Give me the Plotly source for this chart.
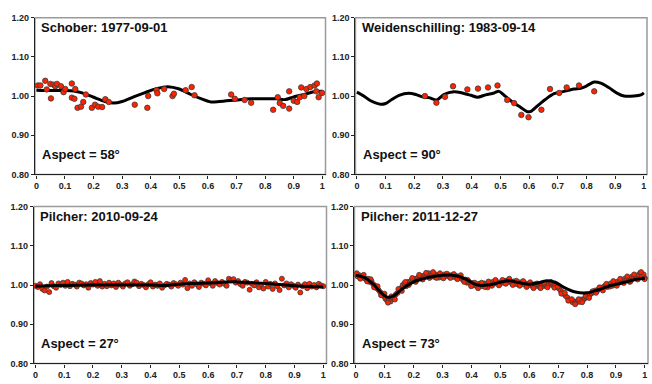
import plotly.graph_objects as go

# ---------------- data ----------------
titles = ["Schober: 1977-09-01", "Weidenschilling: 1983-09-14",
          "Pilcher: 2010-09-24", "Pilcher: 2011-12-27"]
aspects = ["Aspect = 58°", "Aspect = 90°", "Aspect = 27°", "Aspect = 73°"]

x_ticks = [0, 0.1, 0.2, 0.3, 0.4, 0.5, 0.6, 0.7, 0.8, 0.9, 1.0]
x_tick_text = ["0", "0.1", "0.2", "0.3", "0.4", "0.5", "0.6", "0.7", "0.8", "0.9", "1"]
y_ticks = [0.80, 0.90, 1.00, 1.10, 1.20]
y_tick_text = ["0.80", "0.90", "1.00", "1.10", "1.20"]

# Panel 1: Schober 1977
m1_phase = [0.0, 0.05, 0.10, 0.13, 0.16, 0.20, 0.24, 0.27, 0.30, 0.34, 0.38, 0.42, 0.46,
            0.50, 0.54, 0.58, 0.61, 0.64, 0.70, 0.75, 0.80, 0.84, 0.87, 0.90, 0.94, 0.97, 1.0]
m1_mag = [1.015, 1.014, 1.014, 1.013, 1.008, 0.997, 0.986, 0.982, 0.986, 0.998, 1.009, 1.019, 1.024,
          1.018, 1.004, 0.992, 0.985, 0.986, 0.990, 0.993, 0.993, 0.993, 0.991, 0.998, 1.005, 1.011, 1.012]
d1_phase = [0.005, 0.014, 0.031, 0.036, 0.049, 0.051, 0.060, 0.066, 0.072, 0.086, 0.095, 0.101,
            0.124, 0.124, 0.133, 0.136, 0.144, 0.156, 0.164, 0.173, 0.194, 0.205, 0.216, 0.230,
            0.241, 0.253, 0.344, 0.388, 0.391, 0.420, 0.423, 0.447, 0.476, 0.481, 0.522, 0.543,
            0.553, 0.681, 0.694, 0.728, 0.751, 0.828, 0.844, 0.851, 0.863, 0.884, 0.884, 0.900,
            0.912, 0.921, 0.926, 0.937, 0.944, 0.958, 0.973, 0.981, 0.979, 0.987, 0.999]
d1_mag = [1.027, 1.027, 1.039, 1.017, 1.031, 0.994, 1.029, 1.025, 1.031, 1.025, 1.010, 1.018,
          1.032, 0.996, 0.993, 1.018, 0.970, 0.973, 0.985, 1.004, 0.970, 0.978, 0.973, 0.972,
          0.992, 0.985, 0.978, 0.970, 1.000, 1.015, 1.007, 1.018, 1.000, 1.006, 1.015, 1.023,
          1.002, 1.004, 0.993, 0.990, 0.983, 0.965, 0.997, 0.982, 0.975, 1.012, 0.968, 0.988,
          0.985, 0.997, 1.022, 1.000, 1.018, 1.023, 1.027, 1.032, 1.012, 0.997, 1.008]

# Panel 2: Weidenschilling 1983
m2_phase = [0.0, 0.024, 0.048, 0.083, 0.10, 0.123, 0.147, 0.181, 0.205, 0.228, 0.251, 0.278,
            0.303, 0.338, 0.367, 0.397, 0.42, 0.449, 0.478, 0.495, 0.513, 0.542, 0.571, 0.594,
            0.606, 0.629, 0.658, 0.687, 0.71, 0.734, 0.757, 0.78, 0.798, 0.827, 0.85, 0.879,
            0.908, 0.931, 0.966, 0.99, 1.0]
m2_mag = [1.010, 1.000, 0.988, 0.979, 0.981, 0.992, 1.002, 1.007, 1.004, 0.998, 0.996, 0.990,
          1.004, 1.011, 1.008, 1.002, 0.997, 1.003, 1.008, 1.012, 1.002, 0.985, 0.971, 0.960,
          0.961, 0.975, 0.992, 1.006, 1.010, 1.014, 1.018, 1.020, 1.025, 1.036, 1.033, 1.021,
          1.007, 1.000, 1.000, 1.003, 1.008]
d2_phase = [0.237, 0.277, 0.307, 0.335, 0.385, 0.422, 0.457, 0.490, 0.524, 0.548, 0.573, 0.598,
            0.643, 0.673, 0.705, 0.731, 0.774, 0.827]
d2_mag = [1.000, 0.983, 0.998, 1.025, 1.017, 1.019, 1.022, 1.027, 0.990, 0.982, 0.952, 0.946,
          0.965, 1.018, 1.008, 1.022, 1.027, 1.012]

# Panel 3: Pilcher 2010
m3_phase = [0.0, 0.05, 0.10, 0.20, 0.30, 0.40, 0.45, 0.50, 0.55, 0.60, 0.65, 0.70, 0.75, 0.80,
            0.85, 0.90, 0.95, 1.0]
m3_mag = [0.997, 0.998, 0.999, 1.000, 1.000, 1.000, 0.999, 1.002, 1.004, 1.005, 1.007, 1.008,
          1.006, 1.004, 1.001, 0.998, 0.996, 0.995]
d3_phase = [0.000, 0.008, 0.016, 0.024, 0.032, 0.040, 0.048, 0.056, 0.064, 0.072, 0.080, 0.088,
            0.096, 0.104, 0.112, 0.120, 0.128, 0.136, 0.144, 0.152, 0.160, 0.168, 0.176, 0.184,
            0.192, 0.200, 0.208, 0.216, 0.224, 0.232, 0.240, 0.248, 0.256, 0.264, 0.272, 0.280,
            0.288, 0.296, 0.304, 0.312, 0.320, 0.328, 0.336, 0.344, 0.352, 0.360, 0.368, 0.376,
            0.384, 0.392, 0.400, 0.408, 0.416, 0.424, 0.432, 0.440, 0.448, 0.456, 0.464, 0.472,
            0.480, 0.488, 0.496, 0.504, 0.512, 0.520, 0.528, 0.536, 0.544, 0.552, 0.560, 0.568,
            0.576, 0.584, 0.592, 0.600, 0.608, 0.616, 0.624, 0.632, 0.640, 0.648, 0.656, 0.664,
            0.672, 0.680, 0.688, 0.696, 0.704, 0.712, 0.720, 0.728, 0.736, 0.744, 0.752, 0.760,
            0.768, 0.776, 0.784, 0.792, 0.800, 0.808, 0.816, 0.824, 0.832, 0.840, 0.848, 0.856,
            0.864, 0.872, 0.880, 0.888, 0.896, 0.904, 0.912, 0.920, 0.928, 0.936, 0.944, 0.952,
            0.960, 0.968, 0.976, 0.984, 0.992, 1.000]
d3_mag = [0.998, 0.995, 1.002, 0.990, 0.986, 0.996, 0.982, 1.005, 0.997, 0.993, 1.004, 1.000,
          1.006, 0.998, 1.008, 0.997, 1.003, 1.001, 0.996, 1.006, 1.004, 0.999, 1.002, 0.993,
          1.005, 1.001, 1.008, 0.998, 1.010, 0.996, 1.003, 0.997, 1.006, 0.999, 1.004, 0.995,
          1.006, 1.001, 0.996, 1.004, 1.007, 0.998, 1.002, 1.009, 1.006, 0.997, 1.003, 1.000,
          0.994, 1.002, 1.007, 0.996, 1.001, 0.998, 1.004, 0.993, 0.999, 1.003, 1.001, 0.996,
          1.005, 1.002, 0.998, 1.006, 1.001, 1.013, 0.992, 1.004, 0.998, 1.007, 1.002, 0.995,
          1.006, 1.003, 0.999, 1.012, 1.004, 0.998, 1.010, 1.005, 1.001, 1.008, 1.003, 0.998,
          1.016, 1.012, 1.015, 1.006, 1.010, 1.002, 0.998, 1.008, 1.006, 0.988, 1.003, 0.999,
          1.007, 0.994, 1.001, 0.991, 1.008, 0.996, 1.003, 0.990, 1.004, 0.997, 0.987, 1.016,
          0.999, 1.004, 0.994, 1.002, 0.998, 0.993, 1.001, 0.981, 0.997, 1.002, 0.992, 1.003,
          0.996, 1.000, 0.994, 1.003, 0.999, 0.997]

# Panel 4: Pilcher 2011
m4_phase = [0.0, 0.03, 0.06, 0.09, 0.11, 0.13, 0.16, 0.20, 0.25, 0.30, 0.35, 0.38, 0.42, 0.46,
            0.50, 0.53, 0.57, 0.60, 0.63, 0.66, 0.69, 0.72, 0.76, 0.80, 0.84, 0.88, 0.92, 0.96, 1.0]
m4_mag = [1.025, 1.019, 1.002, 0.978, 0.969, 0.972, 0.990, 1.008, 1.019, 1.025, 1.023, 1.015,
          1.000, 1.000, 1.007, 1.011, 1.005, 1.002, 1.005, 1.011, 1.007, 0.994, 0.982, 0.980,
          0.988, 0.998, 1.005, 1.013, 1.017]
d4_phase = [0.000, 0.006, 0.012, 0.018, 0.024, 0.030, 0.036, 0.042, 0.048, 0.054, 0.060, 0.066,
            0.072, 0.078, 0.084, 0.090, 0.096, 0.102, 0.108, 0.114, 0.120, 0.126, 0.132, 0.138,
            0.144, 0.150, 0.156, 0.162, 0.168, 0.174, 0.180, 0.186, 0.192, 0.198, 0.204, 0.210,
            0.216, 0.222, 0.228, 0.234, 0.240, 0.246, 0.252, 0.258, 0.264, 0.270, 0.276, 0.282,
            0.288, 0.294, 0.300, 0.306, 0.312, 0.318, 0.324, 0.330, 0.336, 0.342, 0.348, 0.354,
            0.360, 0.366, 0.372, 0.378, 0.384, 0.390, 0.396, 0.402, 0.408, 0.414, 0.420, 0.426,
            0.432, 0.438, 0.444, 0.450, 0.456, 0.462, 0.468, 0.474, 0.480, 0.486, 0.492, 0.498,
            0.504, 0.510, 0.516, 0.522, 0.528, 0.534, 0.540, 0.546, 0.552, 0.558, 0.564, 0.570,
            0.576, 0.582, 0.588, 0.594, 0.600, 0.606, 0.612, 0.618, 0.624, 0.630, 0.636, 0.642,
            0.648, 0.654, 0.660, 0.666, 0.672, 0.678, 0.684, 0.690, 0.696, 0.702, 0.708, 0.714,
            0.720, 0.726, 0.732, 0.738, 0.744, 0.750, 0.756, 0.762, 0.768, 0.774, 0.780, 0.786,
            0.792, 0.798, 0.804, 0.810, 0.816, 0.822, 0.828, 0.834, 0.840, 0.846, 0.852, 0.858,
            0.864, 0.870, 0.876, 0.882, 0.888, 0.894, 0.900, 0.906, 0.912, 0.918, 0.924, 0.930,
            0.936, 0.942, 0.948, 0.954, 0.960, 0.966, 0.972, 0.978, 0.984, 0.990, 0.996, 1.000]
d4_mag = [1.027, 1.022, 1.025, 1.019, 1.023, 1.017, 1.014, 1.016, 1.008, 1.010, 1.002, 0.998,
          0.992, 0.988, 0.982, 0.978, 0.972, 0.965, 0.960, 0.962, 0.958, 0.966, 0.970, 0.976,
          0.980, 0.987, 0.992, 1.000, 1.004, 0.997, 1.008, 1.006, 1.012, 1.010, 1.016, 1.013,
          1.020, 1.017, 1.023, 1.019, 1.026, 1.022, 1.030, 1.024, 1.028, 1.021, 1.027, 1.024,
          1.019, 1.025, 1.022, 1.027, 1.023, 1.026, 1.021, 1.025, 1.024, 1.020, 1.023, 1.018,
          1.021, 1.016, 1.012, 1.014, 1.006, 1.009, 1.003, 1.005, 0.999, 1.002, 0.996, 1.003,
          1.000, 0.997, 1.004, 1.001, 0.994, 1.006, 1.002, 1.008, 1.004, 1.009, 1.005, 1.002,
          1.008, 1.006, 1.011, 1.007, 1.013, 1.008, 1.004, 1.009, 1.006, 1.002, 1.007, 1.003,
          1.008, 1.001, 1.004, 0.999, 1.003, 1.000, 0.996, 1.002, 0.998, 1.001, 0.995, 1.000,
          0.997, 1.002, 0.999, 1.004, 1.001, 1.005, 0.998, 1.001, 0.994, 0.992, 0.986, 0.982,
          0.977, 0.972, 0.968, 0.963, 0.960, 0.956, 0.958, 0.955, 0.960, 0.957, 0.963, 0.961,
          0.966, 0.969, 0.972, 0.975, 0.979, 0.982, 0.986, 0.984, 0.989, 0.993, 0.991, 0.996,
          0.999, 0.995, 1.001, 1.004, 0.998, 1.006, 1.003, 1.009, 1.006, 1.012, 1.010, 1.016,
          1.012, 1.019, 1.008, 1.021, 1.017, 1.024, 1.020, 1.026, 1.031, 1.022, 1.027, 1.018]
d4b_phase = [0.003, 0.015, 0.027, 0.039, 0.051, 0.063, 0.075, 0.087, 0.099, 0.111, 0.123, 0.135,
             0.147, 0.159, 0.171, 0.183, 0.195, 0.207, 0.219, 0.231, 0.243, 0.255, 0.267, 0.279,
             0.291, 0.303, 0.315, 0.327, 0.339, 0.351, 0.363, 0.375, 0.387, 0.399, 0.411, 0.423,
             0.435, 0.447, 0.459, 0.471, 0.483, 0.495, 0.507, 0.519, 0.531, 0.543, 0.555, 0.567,
             0.579, 0.591, 0.603, 0.615, 0.627, 0.639, 0.651, 0.663, 0.675, 0.687, 0.699, 0.711,
             0.723, 0.735, 0.747, 0.759, 0.771, 0.783, 0.795, 0.807, 0.819, 0.831, 0.843, 0.855,
             0.867, 0.879, 0.891, 0.903, 0.915, 0.927, 0.939, 0.951, 0.963, 0.975, 0.987, 0.999]
d4b_mag = [1.030, 1.016, 1.026, 1.009, 1.015, 0.994, 0.997, 0.974, 0.978, 0.955, 0.971, 0.963,
           0.990, 0.985, 1.008, 1.000, 1.018, 1.008, 1.026, 1.014, 1.031, 1.018, 1.033, 1.018,
           1.030, 1.017, 1.029, 1.018, 1.028, 1.015, 1.025, 1.008, 1.013, 0.997, 1.006, 0.992,
           1.006, 0.995, 1.009, 0.998, 1.013, 0.999, 1.013, 1.003, 1.016, 1.000, 1.011, 0.998,
           1.010, 0.995, 1.007, 0.992, 1.004, 0.992, 1.006, 0.994, 1.008, 0.993, 0.996, 0.978,
           0.980, 0.960, 0.964, 0.951, 0.964, 0.956, 0.972, 0.967, 0.984, 0.980, 0.994, 0.986,
           1.003, 0.996, 1.010, 0.998, 1.016, 1.005, 1.022, 1.010, 1.027, 1.014, 1.033, 1.015]

panels = [
    (m1_phase, m1_mag, [d1_phase], [d1_mag], False),
    (m2_phase, m2_mag, [d2_phase], [d2_mag], False),
    (m3_phase, m3_mag, [d3_phase], [d3_mag], True),
    (m4_phase, m4_mag, [d4_phase, d4b_phase], [d4_mag, d4b_mag], True),
]

# ---------------- layout geometry (pixels) ----------------
W, H = 652, 384
boxes = [(34, 325, 13, 174), (355, 647, 13, 174), (33, 326, 207, 368), (354, 648, 207, 368)]

fig = go.Figure()
font = "Arial, Liberation Sans, sans-serif"
red = "#ff2200"
edge = "#3a3a3a"

for i, (mp, mm, dps, dms, line_on_top) in enumerate(panels):
    n = i + 1
    xa = "x" if n == 1 else f"x{n}"
    ya = "y" if n == 1 else f"y{n}"
    line_tr = go.Scatter(x=mp, y=mm, mode="lines", xaxis=xa, yaxis=ya,
                         line=dict(color="black", width=3, shape="spline", smoothing=0.8),
                         hoverinfo="skip")
    pts = []
    for dp, dm in zip(dps, dms):
        pts.append(go.Scatter(x=dp, y=dm, mode="markers", xaxis=xa, yaxis=ya,
                              marker=dict(color=red, size=5.5 if not line_on_top else 5,
                                          line=dict(color=edge, width=0.8)),
                              hoverinfo="skip"))
    if line_on_top:
        for p in pts:
            fig.add_trace(p)
        fig.add_trace(line_tr)
    else:
        fig.add_trace(line_tr)
        for p in pts:
            fig.add_trace(p)

    x0, x1, y0, y1 = boxes[i]
    xdom = [x0 / W, x1 / W]
    ydom = [1 - y1 / H, 1 - y0 / H]
    ax_common = dict(showgrid=False, zeroline=False, showline=True, linecolor="#222222",
                     linewidth=1.2, ticks="outside", ticklen=3, tickwidth=1, tickcolor="#222222",
                     tickfont=dict(family=font, size=9, color="#222222", weight="bold"))
    fig.layout[f"xaxis{'' if n == 1 else n}"] = dict(
        domain=xdom, anchor=ya, range=[-0.005, 1.011], tickvals=x_ticks, ticktext=x_tick_text,
        **ax_common)
    fig.layout[f"yaxis{'' if n == 1 else n}"] = dict(
        domain=ydom, anchor=xa, range=[0.80, 1.20], tickvals=y_ticks, ticktext=y_tick_text,
        **ax_common)

    # gray frame (top/right)
    fig.add_shape(type="rect", xref=f"{xa} domain", yref=f"{ya} domain", x0=0, x1=1, y0=0, y1=1,
                  line=dict(color="#9a9a9a", width=1.5), layer="below")

    ty = 0.935 if n <= 2 else 0.94
    fig.add_annotation(text=titles[i], xref=f"{xa} domain", yref=f"{ya} domain",
                       x=0.014, y=ty, xanchor="left", yanchor="middle", showarrow=False,
                       font=dict(family=font, size=13, color="#111111", weight="bold"))
    fig.add_annotation(text=aspects[i], xref=f"{xa} domain", yref=f"{ya} domain",
                       x=0.018, y=0.13, xanchor="left", yanchor="middle", showarrow=False,
                       font=dict(family=font, size=13, color="#111111", weight="bold"))

fig.update_layout(width=W, height=H, margin=dict(l=0, r=0, t=0, b=0),
                  paper_bgcolor="white", plot_bgcolor="white", showlegend=False)

fig.write_html("out.html", config={"displayModeBar": False},
               post_script="document.body.style.margin='0px';")
